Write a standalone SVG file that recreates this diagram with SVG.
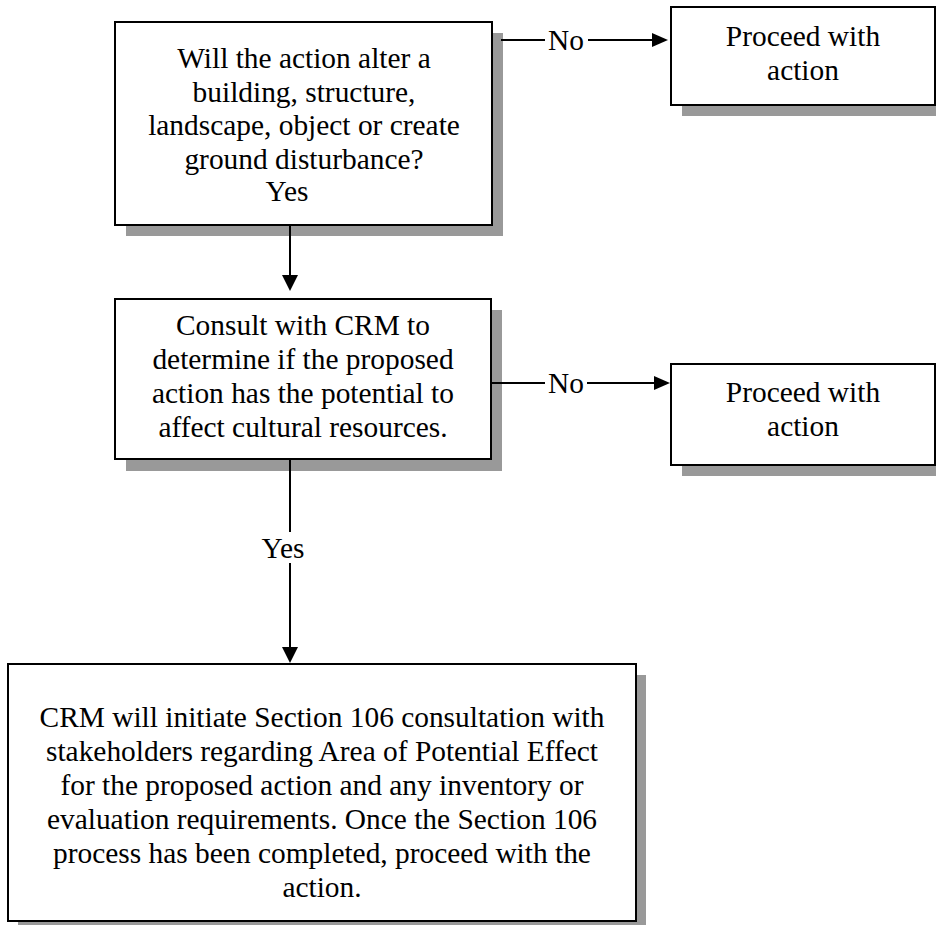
<svg xmlns="http://www.w3.org/2000/svg" width="936" height="925" viewBox="0 0 936 925">
<style>
  .shadow { fill: #999999; }
  .box { fill: #ffffff; stroke: #000000; stroke-width: 2; }
  text { font-family: 'Liberation Serif', 'Times New Roman', Times, serif; font-size: 29.4px; fill: #000000; text-anchor: middle; }
  .line { stroke: #000000; stroke-width: 2; fill: none; }
  .head { fill: #000000; }
</style>
<rect width="936" height="925" fill="#ffffff"/>

<g id="node-question">
  <rect class="shadow" x="126" y="33" width="377" height="203"/>
  <rect class="box" x="115" y="22" width="377" height="203"/>
  <text x="304" y="68">Will the action alter a</text>
  <text x="304" y="102">building, structure,</text>
  <text x="304" y="135">landscape, object or create</text>
  <text x="304" y="169">ground disturbance?</text>
  <text x="287" y="201">Yes</text>
</g>

<g id="node-proceed1">
  <rect class="shadow" x="682" y="18" width="264" height="98"/>
  <rect class="box" x="671" y="7" width="264" height="98"/>
  <text x="803" y="46">Proceed with</text>
  <text x="803" y="80">action</text>
</g>

<g id="node-consult">
  <rect class="shadow" x="126" y="310" width="376" height="161"/>
  <rect class="box" x="115" y="299" width="376" height="160"/>
  <text x="303" y="335">Consult with CRM to</text>
  <text x="303" y="369">determine if the proposed</text>
  <text x="303" y="403">action has the potential to</text>
  <text x="303" y="437">affect cultural resources.</text>
</g>

<g id="node-proceed2">
  <rect class="shadow" x="682" y="375" width="264" height="101"/>
  <rect class="box" x="671" y="364" width="264" height="101"/>
  <text x="803" y="402">Proceed with</text>
  <text x="803" y="436">action</text>
</g>

<g id="node-section106">
  <rect class="shadow" x="18" y="675" width="628" height="257"/>
  <rect class="box" x="8" y="664" width="628" height="257"/>
  <text x="322" y="727">CRM will initiate Section 106 consultation with</text>
  <text x="322" y="761">stakeholders regarding Area of Potential Effect</text>
  <text x="322" y="795">for the proposed action and any inventory or</text>
  <text x="322" y="829">evaluation requirements. Once the Section 106</text>
  <text x="322" y="863">process has been completed, proceed with the</text>
  <text x="322" y="897">action.</text>
</g>

<g id="connectors">
  <line class="line" x1="501" y1="40" x2="545" y2="40"/>
  <line class="line" x1="588" y1="40" x2="654" y2="40"/>
  <polygon class="head" points="652,33 668,40 652,47"/>
  <text x="566" y="50">No</text>

  <line class="line" x1="290" y1="225" x2="290" y2="277"/>
  <polygon class="head" points="282,275 298,275 290,291"/>

  <line class="line" x1="492" y1="383" x2="545" y2="383"/>
  <line class="line" x1="587" y1="383" x2="656" y2="383"/>
  <polygon class="head" points="654,376 670,383 654,390"/>
  <text x="566" y="393">No</text>

  <line class="line" x1="290" y1="459" x2="290" y2="532"/>
  <line class="line" x1="290" y1="563" x2="290" y2="649"/>
  <polygon class="head" points="282,647 298,647 290,663"/>
  <text x="283" y="558">Yes</text>
</g>
</svg>
